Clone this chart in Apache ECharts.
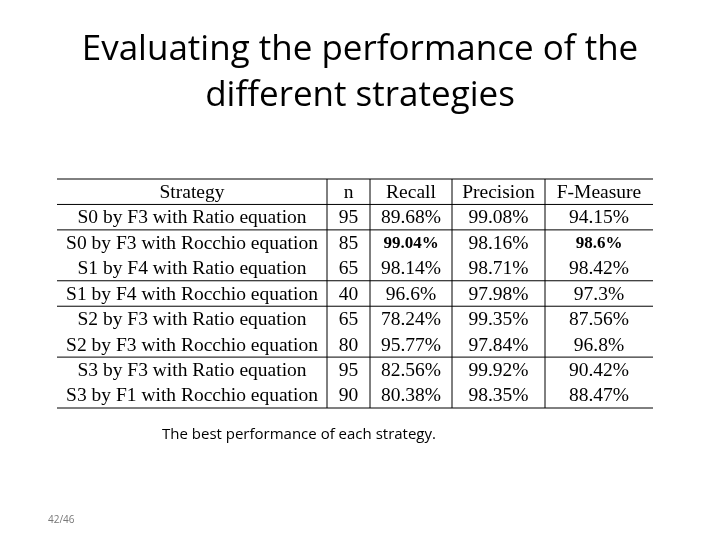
<!DOCTYPE html>
<html>
<head>
<meta charset="utf-8">
<script src="https://cdn.jsdelivr.net/npm/echarts@6/dist/echarts.min.js"></script>
</head>
<body style="margin:0">
<div id="main" style="width:720px;height:540px"></div>
<script>
var headers = ['Strategy', 'n', 'Recall', 'Precision', 'F-Measure'];
var strategies = ['S0 by F3 with Ratio equation', 'S0 by F3 with Rocchio equation', 'S1 by F4 with Ratio equation',
    'S1 by F4 with Rocchio equation', 'S2 by F3 with Ratio equation', 'S2 by F3 with Rocchio equation',
    'S3 by F3 with Ratio equation', 'S3 by F1 with Rocchio equation'];
var nValues = [95, 85, 65, 40, 65, 80, 95, 90];
var recall = ['89.68%', '99.04%', '98.14%', '96.6%', '78.24%', '95.77%', '82.56%', '80.38%'];
var precision = ['99.08%', '98.16%', '98.71%', '97.98%', '99.35%', '97.84%', '99.92%', '98.35%'];
var fMeasure = ['94.15%', '98.6%', '98.42%', '97.3%', '87.56%', '96.8%', '90.42%', '88.47%'];
var boldCells = [[1, 2], [1, 4]]; // [row, col]
var colEdges = [0, 270, 313, 395, 488, 596];
var hLines = [0, 1, 2, 4, 5, 7, 9];

var cells = [];
headers.forEach(function (h, c) { cells.push([c, 0, h, 0]); });
for (var i = 0; i < strategies.length; i++) {
    var row = [strategies[i], nValues[i], recall[i], precision[i], fMeasure[i]];
    for (var c = 0; c < row.length; c++) {
        var b = boldCells.some(function (p) { return p[0] === i && p[1] === c; }) ? 1 : 0;
        cells.push([c, i + 1, String(row[c]), b]);
    }
}

var chart = echarts.init(document.getElementById('main'));
chart.setOption({
    backgroundColor: '#fff',
    title: [
        {text: 'Evaluating the performance of the\ndifferent strategies', left: 'center', top: 22,
            textStyle: {fontFamily: 'Open Sans', fontSize: 35, fontWeight: 'normal', color: '#000', lineHeight: 46}},
        {text: 'The best performance of each strategy.', left: 157, top: 422,
            textStyle: {fontFamily: 'Open Sans', fontSize: 15, fontWeight: 'normal', color: '#000'}},
        {text: '42/46', left: 43, top: 510,
            textStyle: {fontFamily: 'Open Sans', fontSize: 10, fontWeight: 'normal', color: '#777'}}
    ],
    grid: {left: 57, top: 179, width: 596, height: 229},
    xAxis: {type: 'value', min: 0, max: 596, show: false},
    yAxis: {type: 'value', min: 0, max: 9, inverse: true, show: false},
    series: [
        {
            type: 'custom', silent: true,
            data: hLines.map(function (r) { return [r]; }),
            renderItem: function (params, api) {
                var r = api.value(0);
                var a = api.coord([0, r]), b = api.coord([596, r]);
                return {type: 'line', shape: {x1: a[0], y1: a[1], x2: b[0], y2: b[1]},
                    style: {stroke: '#000', lineWidth: 1}};
            }
        },
        {
            type: 'custom', silent: true,
            data: colEdges.slice(1, 5).map(function (x) { return [x]; }),
            renderItem: function (params, api) {
                var x = api.value(0);
                var a = api.coord([x, 0]), b = api.coord([x, 9]);
                return {type: 'line', shape: {x1: a[0], y1: a[1], x2: b[0], y2: b[1]},
                    style: {stroke: '#000', lineWidth: 1}};
            }
        },
        {
            type: 'custom', silent: true,
            data: cells,
            encode: {x: 0, y: 1},
            renderItem: function (params, api) {
                var c = api.value(0), r = api.value(1);
                var p = api.coord([(colEdges[c] + colEdges[c + 1]) / 2, r + 0.5]);
                return {type: 'text', x: p[0], y: p[1] + 1,
                    style: {text: cells[params.dataIndex][2], align: 'center', verticalAlign: 'middle',
                        font: (cells[params.dataIndex][3] ? 'bold 17px' : '19.5px') + ' "Liberation Serif"', fill: '#000'}};
            }
        }
    ]
});
</script>
</body>
</html>
